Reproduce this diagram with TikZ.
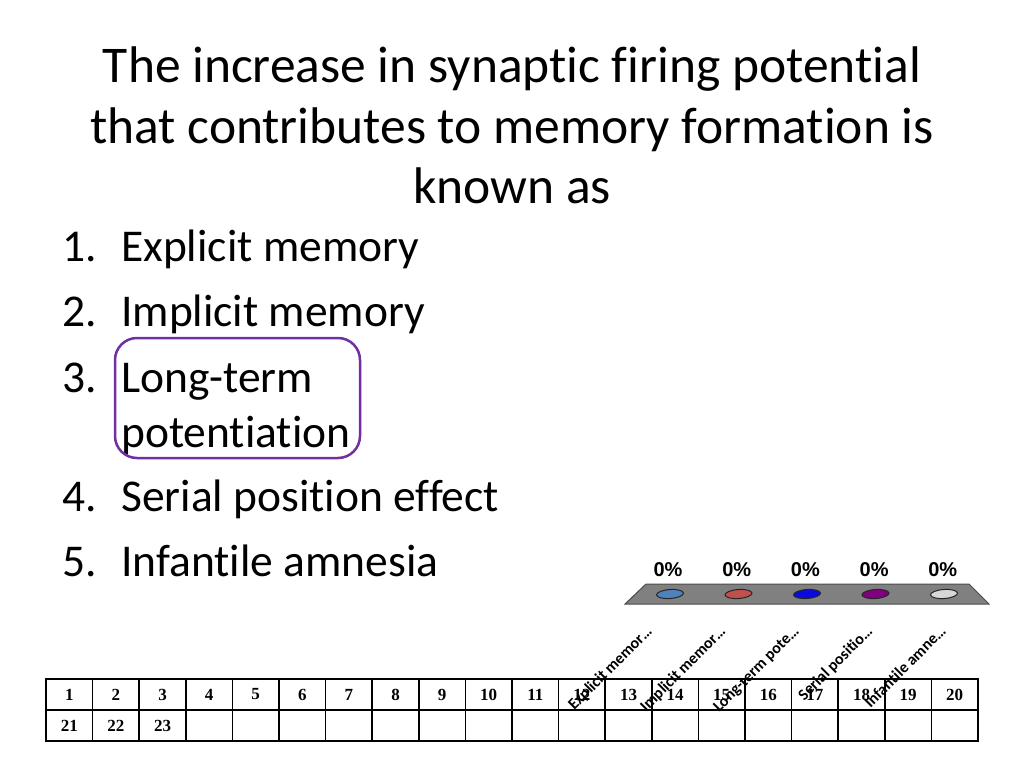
\documentclass[tikz,border=0pt]{standalone}
\usepackage{fontspec}
\usetikzlibrary{shapes.geometric}
\setmainfont{Carlito}[RawFeature={-liga,-dlig,-clig}]
\newfontfamily\tabfont{Liberation Serif}
\newfontfamily\pctfont{Liberation Sans}
\definecolor{answerpurple}{RGB}{112,48,160}
\definecolor{barblue}{RGB}{79,129,189}
\definecolor{barred}{RGB}{192,80,77}
\definecolor{barroyal}{RGB}{10,10,220}
\definecolor{barplum}{RGB}{128,0,128}
\definecolor{barsilver}{RGB}{215,215,215}
\tikzset{
  titleline/.style={anchor=base, font=\fontsize{51.5}{61}\selectfont},
  itemnum/.style={anchor=base west, font=\fontsize{45.5}{55}\selectfont, inner sep=0},
  itemtext/.style={anchor=base west, font=\fontsize{45.5}{55}\selectfont, inner sep=0},
  pct/.style={font=\pctfont\bfseries\fontsize{20}{22}\selectfont},
  dot/.style={ellipse, draw=black!85, line width=1pt, minimum width=27pt, minimum height=9pt, inner sep=0},
  slant/.style={rotate=45, anchor=base east, inner sep=0, font=\bfseries\fontsize{16}{18}\selectfont},
  cell/.style={draw, line width=1.5pt, minimum width=46.6pt, minimum height=31pt, inner sep=0, font=\tabfont\bfseries\fontsize{17}{19}\selectfont}
}
\begin{document}
\begin{tikzpicture}[x=1pt,y=-1pt]
\useasboundingbox[fill=white] (0,0) rectangle (1024,768);
% title
\node[titleline] (title1) at (512,82) {The increase in synaptic firing potential};
\node[titleline] (title2) at (512,143) {that contributes to memory formation is};
\node[titleline] (title3) at (512,203) {known as};
% answers
\node[itemnum] (n1) at (62,261) {1.}; \node[itemtext] (a1) at (121,261) {Explicit memory};
\node[itemnum] (n2) at (62,326) {2.}; \node[itemtext] (a2) at (121,326) {Implicit memory};
\node[itemnum] (n3) at (62,392) {3.}; \node[itemtext] (a3) at (121,392) {Long-term};
\node[itemtext] (a3b) at (121,447) {potentiation};
\node[itemnum] (n4) at (62,511) {4.}; \node[itemtext] (a4) at (121,511) {Serial position effect};
\node[itemnum] (n5) at (62,576) {5.}; \node[itemtext] (a5) at (121,576) {Infantile amnesia};
% correct answer
\draw[answerpurple, line width=2.5pt, rounded corners=22pt] (115,338) rectangle (360,458);
% bar chart
\draw[fill=gray, draw=black!70, line width=1pt] (646,584) -- (969,584) -- (989,604) -- (625,604) -- cycle;
\foreach \c [count=\i] in {barblue,barred,barroyal,barplum,barsilver} {
  \node[dot, fill=\c, rotate=4] (d\i) at (670+68.5*\i-68.5,594) {};
  \node[pct] (p\i) at (668+68.7*\i-68.7,570) {0\%};
}
\foreach \t [count=\i] in {Explicit memor\dots,Implicit memor\dots,Long-term pote\dots,Serial positio\dots,Infantile amne\dots}
  \node[slant] (l\i) at (653+73.5*\i-73.5,632) {\t};
% response grid
\foreach \i in {1,...,20} {
  \node[cell] (c\i) at (46+46.6*\i-23.3,694.5) {\i};
}
\foreach \i in {1,...,20} {
  \pgfmathtruncatemacro\k{\i+20}
  \ifnum\i<4
    \node[cell] (r\i) at (46+46.6*\i-23.3,725.5) {\k};
  \else
    \node[cell] (r\i) at (46+46.6*\i-23.3,725.5) {};
  \fi
}
\end{tikzpicture}
\end{document}
